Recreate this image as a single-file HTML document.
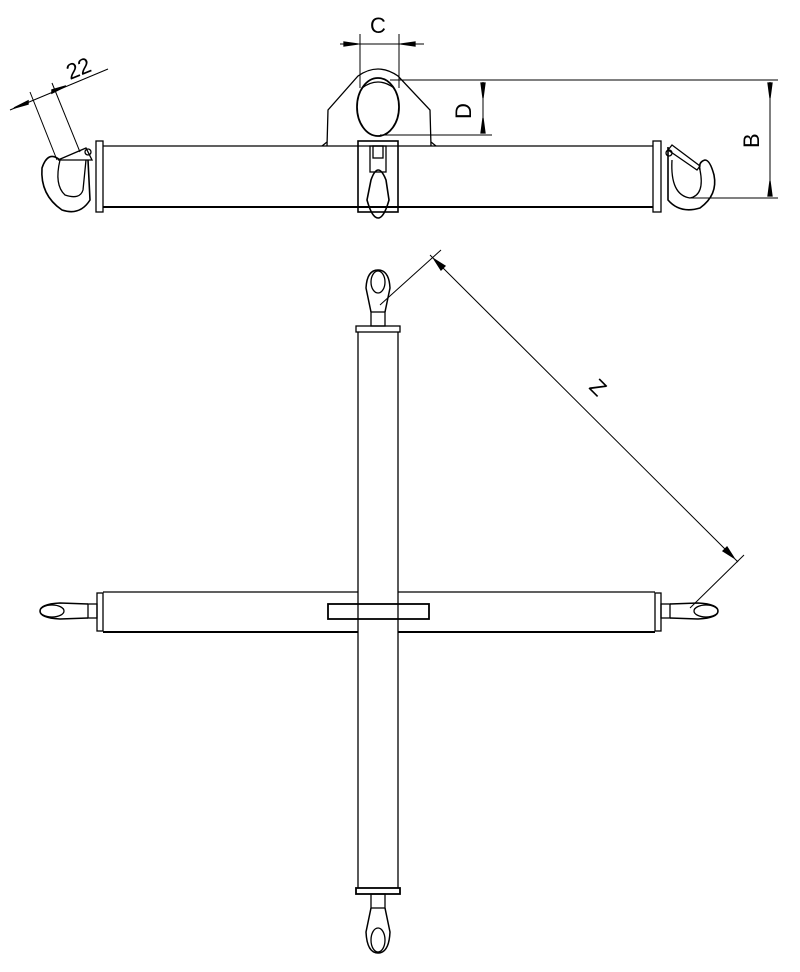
<!DOCTYPE html>
<html><head><meta charset="utf-8"><style>
html,body{margin:0;padding:0;background:#fff}
svg{display:block}
text{font-family:"Liberation Sans",sans-serif;font-size:22px;fill:#000}
</style></head><body>
<svg width="800" height="972" viewBox="0 0 800 972" xmlns="http://www.w3.org/2000/svg" fill="none" stroke="#000" stroke-width="1.3">
<!-- TOP VIEW -->
<line x1="103" y1="146" x2="653" y2="146"/>
<line x1="103" y1="207" x2="653" y2="207" stroke-width="2"/>
<rect x="96" y="141" width="7" height="71"/>
<rect x="653" y="141" width="8" height="71"/>
<path d="M327 146 L328 110 L358 76 Q378 62 398 76 L430 110 L431 146"/>
<path d="M322 146 L327 142 M436 146 L431 142"/>
<ellipse cx="378" cy="107" rx="21" ry="29" stroke-width="1.8"/>
<path d="M362 88 Q378 76 394 88"/>
<rect x="358" y="141" width="40" height="71" stroke-width="1.6"/>
<rect x="370" y="146" width="16" height="26"/>
<rect x="373" y="146" width="10" height="12"/>
<path d="M371 180 Q378 160 386 180 L389 200 Q384 218 378 218 Q372 218 367 200 Z" stroke-width="1.6"/>
<path d="M60 160 Q48 150 42 168 Q40 195 62 210 Q80 216 90 200 L88 160" stroke-width="1.6"/>
<path d="M60 160 Q54 185 65 195 Q80 200 83 190 L86 160"/>
<path d="M58 160 L86 148 L92 160 Z"/>
<circle cx="88" cy="152" r="3"/>
<path d="M668 147 L668 200 Q680 214 700 208 Q718 195 714 175 Q710 160 705 160 Q698 162 700 170" stroke-width="1.6"/>
<path d="M672 160 Q670 195 690 198 Q705 195 700 170"/>
<path d="M668 150 L672 145 L700 166 L697 170 Z"/>
<circle cx="669" cy="153" r="3"/>
<line x1="360" y1="34" x2="360" y2="88" stroke-width="1"/>
<line x1="399" y1="34" x2="399" y2="88" stroke-width="1"/>
<line x1="340" y1="44" x2="424" y2="44" stroke-width="1"/>
<path d="M344 42 L358 44 L344 46Z M415 42 L401 44 L415 46Z" fill="#000"/>
<text x="370" y="33" stroke="none">C</text>
<line x1="390" y1="80" x2="778" y2="80" stroke-width="1"/>
<line x1="380" y1="135" x2="492" y2="135" stroke-width="1"/>
<line x1="483" y1="82" x2="483" y2="133" stroke-width="1"/>
<path d="M481 83 L483 98 L485 83Z M481 133 L483 118 L485 133Z" fill="#000"/>
<line x1="690" y1="198" x2="778" y2="198" stroke-width="1"/>
<line x1="770" y1="82" x2="770" y2="196" stroke-width="1"/>
<path d="M768 83 L770 98 L772 83Z M768 196 L770 181 L772 196Z" fill="#000"/>
<text x="0" y="0" stroke="none" transform="translate(471,119) rotate(-90)">D</text>
<text x="0" y="0" stroke="none" transform="translate(759,148) rotate(-90)">B</text>
<line x1="30" y1="92" x2="57" y2="160" stroke-width="1"/>
<line x1="52" y1="83" x2="80" y2="152" stroke-width="1"/>
<line x1="10" y1="110" x2="108" y2="69" stroke-width="1"/>
<path d="M14 108 L28 101 L28 104Z M66 86 L52 93 L52 90Z" fill="#000" stroke-width="1.5"/>
<text x="0" y="0" stroke="none" transform="translate(70,80) rotate(-22)">22</text>

<!-- BOTTOM VIEW -->
<line x1="103" y1="592" x2="358" y2="592"/>
<line x1="398" y1="592" x2="655" y2="592"/>
<line x1="103" y1="632" x2="358" y2="632" stroke-width="2"/>
<line x1="398" y1="632" x2="655" y2="632" stroke-width="2"/>
<rect x="97" y="593" width="6" height="38"/>
<rect x="655" y="593" width="6" height="38"/>
<rect x="88" y="604" width="9" height="14"/>
<rect x="661" y="604" width="9" height="14"/>
<path d="M88 604 L60 603 Q40 604 40 611 Q40 618 60 619 L88 618" stroke-width="1.5"/>
<ellipse cx="52" cy="611" rx="12" ry="6"/>
<path d="M670 604 L698 603 Q718 604 718 611 Q718 618 698 619 L670 618" stroke-width="1.5"/>
<ellipse cx="706" cy="611" rx="12" ry="6"/>
<line x1="358" y1="332" x2="358" y2="888"/>
<line x1="398" y1="332" x2="398" y2="888"/>
<rect x="356" y="326" width="44" height="6"/>
<rect x="356" y="888" width="44" height="6" stroke-width="1.8"/>
<rect x="371" y="312" width="14" height="14"/>
<rect x="371" y="894" width="14" height="14"/>
<path d="M371 312 L366 288 Q367 270 378 270 Q389 270 390 288 L385 312" stroke-width="1.5"/>
<ellipse cx="378" cy="282" rx="7" ry="11"/>
<path d="M371 908 L366 932 Q367 953 378 953 Q389 953 390 932 L385 908" stroke-width="1.5"/>
<ellipse cx="378" cy="940" rx="7" ry="12"/>
<rect x="328" y="604" width="101" height="15" stroke-width="1.8"/>
<line x1="380" y1="305" x2="441" y2="250" stroke-width="1"/>
<line x1="690" y1="608" x2="744" y2="555" stroke-width="1"/>
<line x1="430" y1="255" x2="738" y2="562" stroke-width="1"/>
<path d="M434 259 L445 266 L441 270Z M734 558 L723 551 L727 547Z" fill="#000"/>
<text x="0" y="0" stroke="none" transform="translate(588,388) rotate(45)">Z</text>
</svg>
</body></html>
